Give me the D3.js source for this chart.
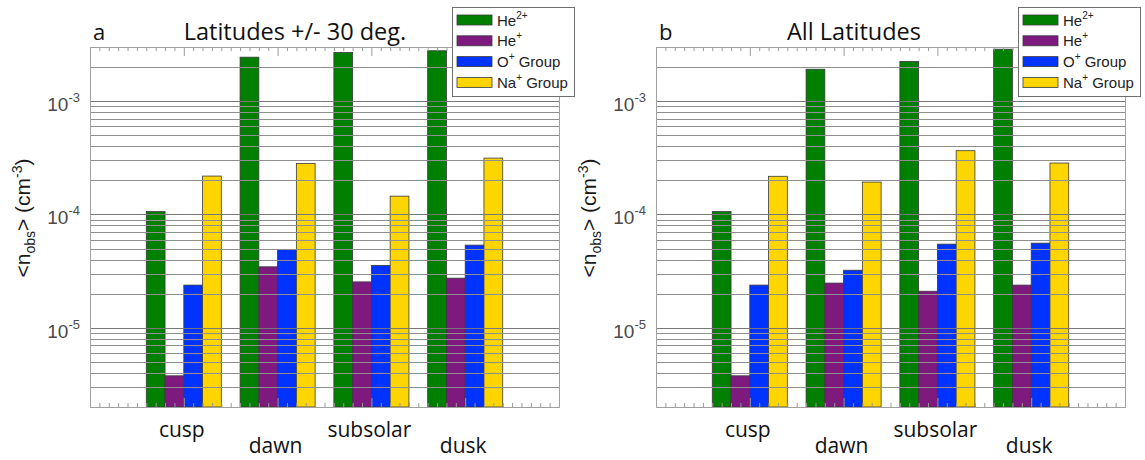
<!DOCTYPE html>
<html>
<head>
<meta charset="utf-8">
<script src="https://cdn.jsdelivr.net/npm/d3@7"></script>
<style>
  body { margin: 0; background: #fff; }
  svg { display: block; }
  .tick text { display: none; }
</style>
</head>
<body>
<div id="chart"></div>
<script>
// ---- data ----
var categories = ['cusp', 'dawn', 'subsolar', 'dusk'];
var species = [['He', '2+'], ['He', '+'], ['O', '+', ' Group'], ['Na', '+', ' Group']];
var speciesColors = ['#007f00', '#7e1a7e', '#0033ff', '#ffd500'];

// panel a: latitudes +/- 30 deg
var he2A = [1.06e-4, 2.44e-3, 2.69e-3, 2.78e-3];
var heA  = [3.77e-6, 3.45e-5, 2.54e-5, 2.74e-5];
var oA   = [2.38e-5, 4.91e-5, 3.55e-5, 5.36e-5];
var naA  = [2.18e-4, 2.82e-4, 1.45e-4, 3.14e-4];

// panel b: all latitudes
var he2B = [1.06e-4, 1.91e-3, 2.24e-3, 2.87e-3];
var heB  = [3.77e-6, 2.48e-5, 2.10e-5, 2.38e-5];
var oB   = [2.38e-5, 3.22e-5, 5.47e-5, 5.58e-5];
var naB  = [2.17e-4, 1.93e-4, 3.65e-4, 2.84e-4];

var yExponents = [-5, -4, -3];
var yDomain = [2e-6, 3e-3];

var width = 1145;
var height = 460;

var svg = d3.select('#chart')
  .append('svg')
  .attr('width', width)
  .attr('height', height);

var plotW = 469;
var plotH = 360;

function drawPanel(left, letter, title, titleX, series) {
  var g = svg.append('g').attr('transform', 'translate(' + left + ',47)');

  var x = d3.scaleLinear().domain([0, 5]).range([0, plotW]);
  var y = d3.scaleLog().domain(yDomain).range([plotH, 0]);

  // bars
  series.forEach(function(vals, si) {
    g.selectAll('.bar' + si)
      .data(vals)
      .enter()
      .append('rect')
      .attr('x', function(d, i) { return x(i + 1 - 0.4 + 0.2 * si); })
      .attr('width', x(0.2) - x(0))
      .attr('y', function(d) { return y(d); })
      .attr('height', function(d) { return y(yDomain[0]) - y(d); })
      .attr('fill', speciesColors[si])
      .attr('stroke', '#3a3a3a')
      .attr('stroke-width', 0.8);
  });

  // log grid, drawn over the bars
  var gridVals = [];
  for (var k = -6; k <= -3; k++) {
    for (var m = 1; m <= 9; m++) {
      var v = m * Math.pow(10, k);
      if (v > yDomain[0] * 1.0001 && v < yDomain[1] * 0.9999) gridVals.push(v);
    }
  }
  g.selectAll('.grid')
    .data(gridVals)
    .enter()
    .append('line')
    .attr('x1', 0)
    .attr('x2', plotW)
    .attr('y1', function(d) { return Math.round(y(d)) + 0.5; })
    .attr('y2', function(d) { return Math.round(y(d)) + 0.5; })
    .attr('stroke', function(d) { return Math.abs(Math.log10(d) % 1) < 1e-6 ? '#777' : '#8f8f8f'; })
    .attr('stroke-width', 1);

  // inward ticks top and bottom
  var minor = d3.range(0, 50).map(function(i) { return i / 10; }).filter(function(d) { return d % 1 !== 0; });
  var major = [1, 2, 3, 4];
  [[d3.axisTop, 0], [d3.axisBottom, plotH]].forEach(function(a) {
    g.append('g')
      .attr('transform', 'translate(0,' + a[1] + ')')
      .call(a[0](x).tickValues(minor).tickSize(-4).tickSizeOuter(0))
      .call(function(s) { s.select('.domain').remove(); s.selectAll('line').attr('stroke', '#999'); });
    g.append('g')
      .attr('transform', 'translate(0,' + a[1] + ')')
      .call(a[0](x).tickValues(major).tickSize(-9).tickSizeOuter(0))
      .call(function(s) { s.select('.domain').remove(); s.selectAll('line').attr('stroke', '#999'); });
  });

  // frame
  g.append('rect')
    .attr('x', 0.5).attr('y', 0.5)
    .attr('width', plotW).attr('height', plotH)
    .attr('fill', 'none')
    .attr('stroke', '#a0a0a0');

  // y tick labels
  yExponents.forEach(function(e) {
    var t = g.append('text')
      .attr('x', -10)
      .attr('y', y(Math.pow(10, e)) + 10)
      .attr('text-anchor', 'end')
      .attr('font-family', 'Liberation Sans, Arial, sans-serif')
      .attr('font-size', 19)
      .attr('fill', '#4a4a4a');
    t.append('tspan').text('10');
    t.append('tspan').attr('font-size', 13).attr('dy', -9).text(String(e));
  });

  // y label
  var yl = g.append('text')
    .attr('transform', 'translate(-60,' + (plotH / 2 - 9) + ') rotate(-90)')
    .attr('text-anchor', 'middle')
    .attr('font-family', 'Liberation Sans, Arial, sans-serif')
    .attr('font-size', 21)
    .attr('fill', '#1a1a1a');
  yl.append('tspan').text('<n');
  yl.append('tspan').attr('font-size', 14).attr('dy', 5).text('obs');
  yl.append('tspan').attr('dy', -5).text('> (cm');
  yl.append('tspan').attr('font-size', 14).attr('dy', -8).text('-3');
  yl.append('tspan').attr('dy', 8).text(')');

  // category labels, staggered
  g.selectAll('.cat')
    .data(categories)
    .enter()
    .append('text')
    .attr('x', function(d, i) { return x(i + 1) - 2; })
    .attr('y', function(d, i) { return plotH + (i % 2 === 0 ? 30 : 46); })
    .attr('text-anchor', 'middle')
    .attr('font-family', 'Open Sans, sans-serif')
    .attr('font-size', 21)
    .attr('fill', '#111')
    .text(function(d) { return d; });

  // panel letter and title
  g.append('text')
    .attr('x', 3).attr('y', -7)
    .attr('font-family', 'Open Sans, sans-serif')
    .attr('font-size', 22)
    .attr('fill', '#111')
    .text(letter);
  g.append('text')
    .attr('x', titleX).attr('y', -7)
    .attr('text-anchor', 'middle')
    .attr('font-family', 'Open Sans, sans-serif')
    .attr('font-size', 23.5)
    .attr('fill', '#111')
    .text(title);

  // legend
  var lg = g.append('g').attr('transform', 'translate(' + (plotW - 107) + ',-40)');
  lg.append('rect')
    .attr('x', 0.5).attr('y', 0.5)
    .attr('width', 122).attr('height', 89)
    .attr('fill', '#fff')
    .attr('stroke', '#6e6e6e');
  var row = lg.selectAll('.lrow')
    .data(species)
    .enter()
    .append('g')
    .attr('transform', function(d, i) { return 'translate(0,' + (13 + i * 20.8) + ')'; });
  row.append('rect')
    .attr('x', 5).attr('y', -5)
    .attr('width', 35).attr('height', 10)
    .attr('fill', function(d, i) { return speciesColors[i]; })
    .attr('stroke', '#3a3a3a')
    .attr('stroke-width', 0.8);
  var lt = row.append('text')
    .attr('x', 45).attr('y', 5.5)
    .attr('font-family', 'Liberation Sans, Arial, sans-serif')
    .attr('font-size', 15)
    .attr('fill', '#222');
  lt.append('tspan').text(function(d) { return d[0]; });
  lt.append('tspan').attr('font-size', 10).attr('dy', -7).text(function(d) { return d[1]; });
  lt.append('tspan').attr('dy', 7).text(function(d) { return d[2] || ''; });
}

drawPanel(90, 'a', 'Latitudes +/- 30 deg.', 205, [he2A, heA, oA, naA]);
drawPanel(656, 'b', 'All Latitudes', 198, [he2B, heB, oB, naB]);
</script>
</body>
</html>
